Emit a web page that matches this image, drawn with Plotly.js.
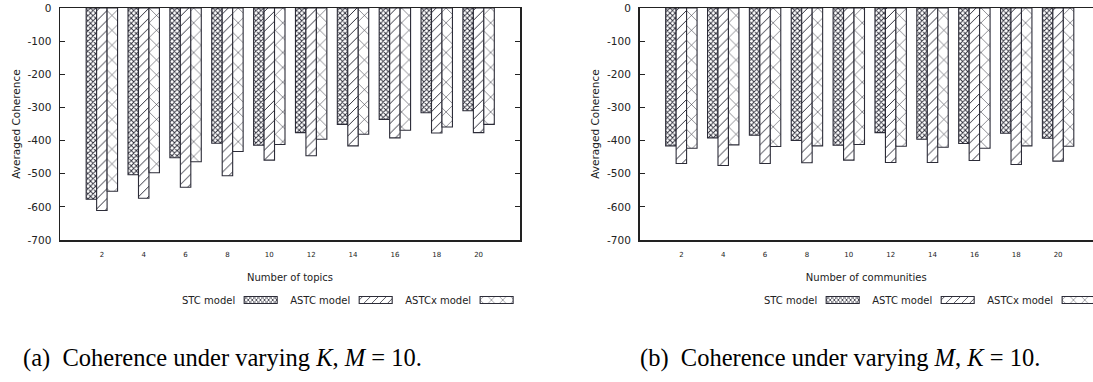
<!DOCTYPE html>
<html>
<head>
<meta charset="utf-8">
<script src="https://cdn.plot.ly/plotly-3.0.1.min.js"></script>
<style>
  html, body { margin: 0; padding: 0; overflow: hidden; background: #fff; width: 1093px; height: 382px; }
  #chart { width: 1093px; height: 382px; }
</style>
</head>
<body>
<div id="chart"></div>
<script>
// Group positions along each x axis
const topicCounts = [2, 4, 6, 8, 10, 12, 14, 16, 18, 20];
const communityCounts = [2, 4, 6, 8, 10, 12, 14, 16, 18, 20];
const tickLabels = ['2', '4', '6', '8', '10', '12', '14', '16', '18', '20'];
const modelNames = ['STC model', 'ASTC model', 'ASTCx model'];

// Averaged coherence while varying the number of topics K (M = 10)
const stcByTopics   = [-577, -503, -452, -408, -414, -376, -351, -336, -316, -310];
const astcByTopics  = [-611, -574, -541, -506, -459, -446, -416, -392, -377, -376];
const astcxByTopics = [-553, -497, -464, -433, -412, -396, -381, -369, -359, -351];

// Averaged coherence while varying the number of communities M (K = 10)
const stcByCommunities   = [-416, -392, -384, -400, -414, -376, -396, -409, -378, -393];
const astcByCommunities  = [-469, -475, -469, -467, -459, -466, -466, -460, -472, -462];
const astcxByCommunities = [-423, -413, -418, -416, -412, -417, -420, -423, -416, -417];

const yTickValues = [0, -100, -200, -300, -400, -500, -600, -700];
const yTickLabels = ['0', '-100', '-200', '-300', '-400', '-500', '-600', '-700'];

// ---- styling ----
const W = 1093, H = 382;
const CLUSTER_PX = 41.86;          // width of one group slot in pixels
const FONT = 'DejaVu Sans, Verdana, sans-serif';
const INK = '#222';
const OUTLINE = '#2c2c38';
const patterns = [
  { shape: 'x', size: 3.6, solidity: 0.45, fgcolor: '#2c2c38', bgcolor: '#ffffff', fillmode: 'replace' },
  { shape: '/', size: 7, solidity: 0.14, fgcolor: '#2c2c38', bgcolor: '#ffffff', fillmode: 'replace' },
  { shape: 'x', size: 10.5, solidity: 0.1, fgcolor: '#2c2c38', bgcolor: '#ffffff', fillmode: 'replace' }
];

function px(x) { return x / W; }
function py(y) { return 1 - y / H; }

function barTrace(xs, ys, i, axisSuffix, legendId) {
  return {
    type: 'bar',
    name: modelNames[i],
    x: xs,
    y: ys,
    xaxis: 'x' + axisSuffix,
    yaxis: 'y' + axisSuffix,
    legend: legendId,
    marker: {
      color: '#ffffff',
      pattern: patterns[i],
      line: { color: OUTLINE, width: 1.1 }
    },
    hoverinfo: 'skip'
  };
}

const data = [
  barTrace(topicCounts, stcByTopics, 0, '', 'legend'),
  barTrace(topicCounts, astcByTopics, 1, '', 'legend'),
  barTrace(topicCounts, astcxByTopics, 2, '', 'legend'),
  barTrace(communityCounts, stcByCommunities, 0, '2', 'legend2'),
  barTrace(communityCounts, astcByCommunities, 1, '2', 'legend2'),
  barTrace(communityCounts, astcxByCommunities, 2, '2', 'legend2')
];

// The x range spans one empty slot before the first group and after the last;
// the right panel runs past the page edge, so its visible range is cut short.
function xAxis(left, right, anchor, title) {
  const slots = (right - left) / CLUSTER_PX;
  return {
    domain: [px(left), px(right)],
    anchor: anchor,
    range: [0, 2 * slots],
    tickvals: topicCounts,
    ticktext: tickLabels,
    ticks: '',
    ticklabelstandoff: 7,
    tickfont: { family: FONT, size: 7, color: INK },
    showline: true,
    linecolor: INK,
    linewidth: 1.5,
    mirror: true,
    showgrid: false,
    zeroline: false,
    title: { text: title, font: { family: FONT, size: 10, color: INK }, standoff: 16 }
  };
}

function yAxis(anchor, mirror) {
  return {
    domain: [py(240), py(8)],
    anchor: anchor,
    range: [-700, 0],
    tickvals: yTickValues,
    ticktext: yTickLabels,
    ticks: 'inside',
    ticklen: 5,
    tickwidth: 1,
    tickcolor: INK,
    ticklabelstandoff: 5,
    tickfont: { family: FONT, size: 10.5, color: INK },
    showline: true,
    linecolor: INK,
    linewidth: 1.5,
    mirror: mirror,
    showgrid: false,
    zeroline: false,
    title: { text: 'Averaged Coherence', font: { family: FONT, size: 10.5, color: INK }, standoff: 5 }
  };
}

function legendBox(x) {
  return {
    orientation: 'h',
    x: px(x), xanchor: 'left',
    y: py(300), yanchor: 'middle',
    bgcolor: 'rgba(0,0,0,0)',
    font: { family: FONT, size: 10, color: INK },
    traceorder: 'normal'
  };
}

const captionFont = { family: 'Liberation Serif, Times New Roman, serif', size: 24.5, color: '#000' };

const layout = {
  width: W,
  height: H,
  margin: { l: 0, r: 0, t: 0, b: 0, pad: 0 },
  paper_bgcolor: '#fff',
  plot_bgcolor: '#fff',
  barmode: 'group',
  bargap: 0.25,
  bargroupgap: 0,
  xaxis: xAxis(60, 520, 'y', 'Number of topics'),
  yaxis: yAxis('x', 'ticks'),
  xaxis2: xAxis(639.5, W, 'y2', 'Number of communities'),
  yaxis2: yAxis('x2', false),
  showlegend: true,
  legend: legendBox(182),
  legend2: legendBox(764),
  annotations: [
    { xref: 'paper', yref: 'paper', x: px(21), y: py(358), xanchor: 'left', yanchor: 'middle',
      showarrow: false, font: captionFont,
      text: '(a)\u00a0 Coherence under varying <i>K</i>, <i>M</i> = 10.' },
    { xref: 'paper', yref: 'paper', x: px(638), y: py(358), xanchor: 'left', yanchor: 'middle',
      showarrow: false, font: captionFont,
      text: '(b)\u00a0 Coherence under varying <i>M</i>, <i>K</i> = 10.' }
  ]
};

// Legend keys sit to the right of their labels, drawn as wide swatches
const SAMPLE_W = 33, SAMPLE_H = 7, TEXT_GAP = 9, ITEM_GAP = 13;
const legendStarts = [182, 764];

function setAttr(el, name, value) {
  const v = String(value);
  if (el.getAttribute(name) !== v) el.setAttribute(name, v);
}

function arrangeLegends(gd) {
  const svgLeft = gd.getBoundingClientRect().left;
  const containers = Array.from(gd.querySelectorAll('.infolayer > g')).filter(function (g) {
    return g.querySelector('g.traces');
  });
  containers.sort(function (a, b) {
    return a.getBoundingClientRect().left - b.getBoundingClientRect().left;
  });
  containers.forEach(function (legendGroup, gi) {
    legendGroup.querySelectorAll('[clip-path]').forEach(function (el) { el.removeAttribute('clip-path'); });
    let x = legendStarts[gi] !== undefined ? legendStarts[gi] : 0;
    legendGroup.querySelectorAll('g.traces').forEach(function (item) {
      const text = item.querySelector('text');
      const bar = item.querySelector('.legendpoints path');
      if (!text || !bar) return;
      const w = text.getBBox().width;
      setAttr(text, 'x', 0);
      text.querySelectorAll('tspan[x]').forEach(function (t) { setAttr(t, 'x', 0); });
      setAttr(bar, 'd', 'M0,' + (-SAMPLE_H / 2) + 'H' + SAMPLE_W + 'V' + (SAMPLE_H / 2) + 'H0Z');
      setAttr(bar, 'transform', 'translate(' + (w + TEXT_GAP).toFixed(2) + ',0)');
      const ctm = item.parentNode.getScreenCTM();
      const originX = ctm ? ctm.e - svgLeft : 0;
      const m = /translate\(\s*([-\d.e]+)[\s,]+([-\d.e]+)/.exec(item.getAttribute('transform') || '');
      const y = m ? parseFloat(m[2]) : 0;
      setAttr(item, 'transform', 'translate(' + (x - originX).toFixed(2) + ',' + y + ')');
      x += w + TEXT_GAP + SAMPLE_W + ITEM_GAP;
    });
  });
}

const gd = document.getElementById('chart');
let arranging = false;
function safeArrange() {
  if (arranging) return;
  arranging = true;
  try { arrangeLegends(gd); } catch (e) { console.error(e); }
  arranging = false;
}
new MutationObserver(safeArrange).observe(gd, {
  subtree: true, childList: true, attributes: true,
  attributeFilter: ['transform', 'x', 'd', 'clip-path']
});
Plotly.newPlot(gd, data, layout, { displayModeBar: false, staticPlot: true }).then(function () {
  safeArrange();
  gd.on('plotly_afterplot', safeArrange);
});
</script>
</body>
</html>
